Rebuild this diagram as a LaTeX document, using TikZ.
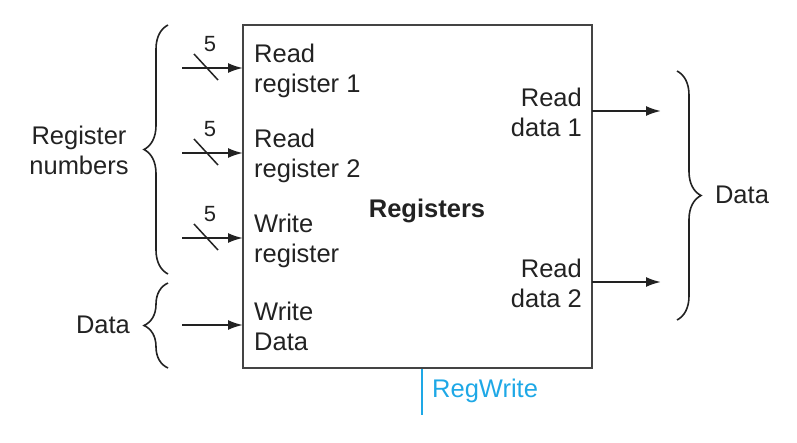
\documentclass[tikz,border=0pt]{standalone}
\usepackage{fontspec}
\setmainfont{Liberation Sans}
\usetikzlibrary{decorations.pathreplacing,arrows.meta}
\definecolor{txt}{HTML}{222222}
\definecolor{boxc}{HTML}{444444}
\definecolor{ctrl}{HTML}{1EA8E6}
\begin{document}
\begin{tikzpicture}[x=1pt,y=-1pt,
  lbl/.style={font=\fontsize{25.5}{30}\selectfont, text=txt, inner sep=0pt, align=left},
  rlbl/.style={font=\fontsize{25.5}{30}\selectfont, text=txt, inner sep=0pt, align=right},
  num/.style={font=\fontsize{22}{26}\selectfont, text=txt, inner sep=0pt},
  sig/.style={line width=2pt, draw=txt, -{Latex[length=15pt,width=10pt]}},
  slash/.style={line width=1.5pt, draw=txt},
  brc/.style={line width=1.6pt, draw=txt, decorate, decoration={brace, amplitude=24pt}}]
\useasboundingbox (0,0) rectangle (797,442);
\node[draw=boxc, line width=2pt, minimum width=349pt, minimum height=343pt, inner sep=0pt] (reg) at (417.5,196.5) {};
\node[font=\bfseries\fontsize{25.5}{30}\selectfont, text=txt] (regt) at (427,211) {Registers};
% input labels
\node[lbl, anchor=west] (rr1) at (254,71) {Read\\register 1};
\node[lbl, anchor=west] (rr2) at (254,156) {Read\\register 2};
\node[lbl, anchor=west] (wr) at (254,241) {Write\\register};
\node[lbl, anchor=west] (wd) at (254,326) {Write\\Data};
\node[rlbl, anchor=east] (rd1) at (582,112) {Read\\data 1};
\node[rlbl, anchor=east] (rd2) at (582,283) {Read\\data 2};
% input arrows
\coordinate (i1) at (182,68); \coordinate (e1) at (243,68);
\coordinate (i2) at (182,153); \coordinate (e2) at (243,153);
\coordinate (i3) at (182,238); \coordinate (e3) at (243,238);
\coordinate (i4) at (182,325); \coordinate (e4) at (243,325);
\draw[sig] (i1) -- (e1);
\draw[sig] (i2) -- (e2);
\draw[sig] (i3) -- (e3);
\draw[sig] (i4) -- (e4);
% slashes
\coordinate (s1a) at (194,54); \coordinate (s1b) at (218,80);
\coordinate (s2a) at (194,139); \coordinate (s2b) at (218,165);
\coordinate (s3a) at (194,224); \coordinate (s3b) at (218,250);
\draw[slash] (s1a) -- (s1b);
\draw[slash] (s2a) -- (s2b);
\draw[slash] (s3a) -- (s3b);
\node[num] (n1) at (210,44) {5};
\node[num] (n2) at (210,129) {5};
\node[num] (n3) at (210,214) {5};
% output arrows
\coordinate (o1) at (592,111); \coordinate (f1) at (661,111);
\coordinate (o2) at (592,282); \coordinate (f2) at (661,282);
\draw[sig] (o1) -- (f1);
\draw[sig] (o2) -- (f2);
% braces
\coordinate (b1a) at (168,274); \coordinate (b1b) at (168,25);
\draw[brc] (b1a) -- (b1b);
\coordinate (b2a) at (168,368); \coordinate (b2b) at (168,283);
\draw[brc] (b2a) -- (b2b);
\coordinate (b3a) at (677,71); \coordinate (b3b) at (677,320);
\draw[brc] (b3a) -- (b3b);
\node[lbl, align=center] (regnum) at (79,150) {Register\\numbers};
\node[lbl] (dl) at (103,325) {Data};
\node[lbl] (dr) at (742,195) {Data};
% control
\coordinate (c1) at (422,369); \coordinate (c2) at (422,415);
\draw[ctrl, line width=1.6pt] (c1) -- (c2);
\node[font=\fontsize{25.5}{30}\selectfont, text=ctrl, inner sep=0pt, anchor=west] (rw) at (432,391) {RegWrite};
\end{tikzpicture}
\end{document}
